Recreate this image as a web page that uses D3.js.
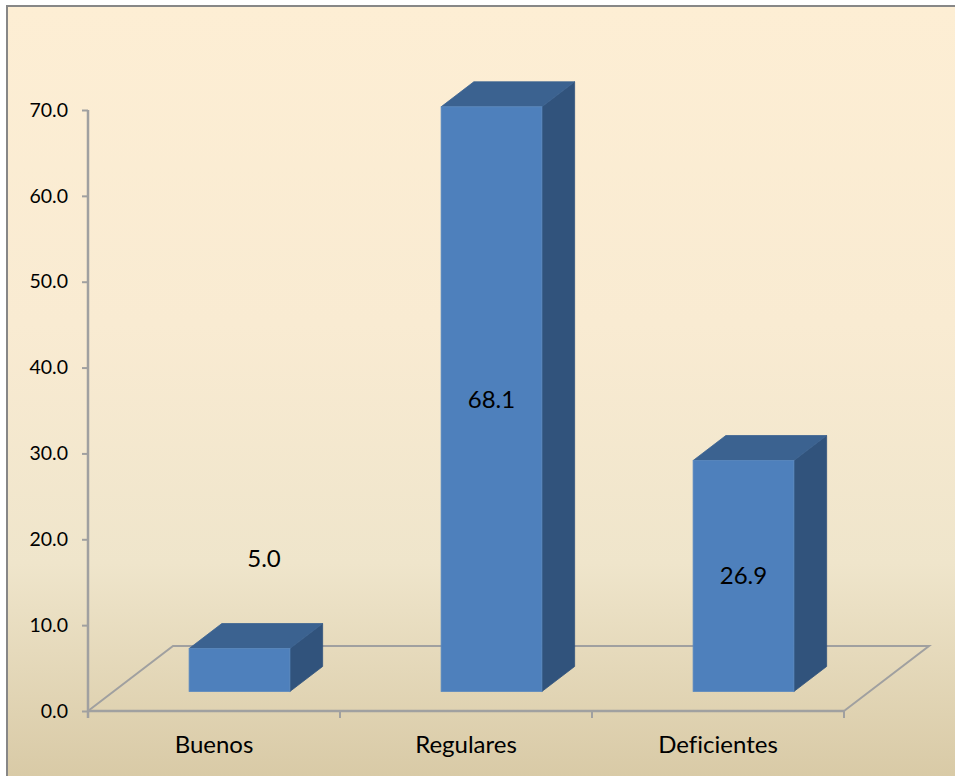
<!DOCTYPE html>
<html>
<head>
<meta charset="utf-8">
<script src="https://cdn.jsdelivr.net/npm/d3@7"></script>
<style>
  html, body { margin: 0; padding: 0; background: #ffffff; }
  svg { display: block; }
  text { font-variant-ligatures: none; }
</style>
</head>
<body>
<svg id="chart" width="955" height="776"></svg>
<script>
// Categories, values and axis ticks
const categories = ["Buenos", "Regulares", "Deficientes"];
const values = [5.0, 68.1, 26.9];
const tickValues = [0, 10, 20, 30, 40, 50, 60, 70];

const W = 955, H = 776;
const svg = d3.select("#chart");

// Background gradient of the chart area
const defs = svg.append("defs");
const grad = defs.append("linearGradient")
  .attr("id", "bg").attr("x1", 0).attr("y1", 0).attr("x2", 0).attr("y2", 1);
[["0%", "#fdeed4"], ["40%", "#f9ebd2"], ["70%", "#efe5cb"], ["100%", "#d6c7a2"]]
  .forEach(([o, c]) => grad.append("stop").attr("offset", o).attr("stop-color", c));

svg.append("rect").attr("x", 0).attr("y", 0).attr("width", W).attr("height", H).attr("fill", "#ffffff");
svg.append("rect")
  .attr("x", 7).attr("y", 6).attr("width", W + 20).attr("height", H + 20)
  .attr("fill", "url(#bg)")
  .attr("stroke", "#878787").attr("stroke-width", 2);

// Plot geometry: front plane of the 3D floor and its depth vector
const plot = { left: 88, right: 844, top: 110, bottom: 711 };
const depth = { dx: 85, dy: -65 };
const barDepthStart = 0.3, barDepthEnd = 0.685;

const x = d3.scaleBand().domain(categories).range([plot.left, plot.right]).paddingInner(0).paddingOuter(0);
const y = d3.scaleLinear().domain([0, 70]).range([plot.bottom, plot.top]);

const gridColor = "#a0a0a0";
const fontMain = "Lato, 'Open Sans', 'DejaVu Sans', sans-serif";

// Floor outline (drawn first so the bars cover its back edge)
const floor = svg.append("g").attr("fill", "none").attr("stroke", gridColor).attr("stroke-width", 2);
floor.append("path").attr("d", d3.line()([
  [plot.left, plot.bottom],
  [plot.left + depth.dx, plot.bottom + depth.dy],
  [plot.right + depth.dx, plot.bottom + depth.dy],
  [plot.right, plot.bottom]
]));

// Value axis
const yAxis = svg.append("g")
  .attr("transform", `translate(${plot.left},0)`)
  .call(d3.axisLeft(y).tickValues(tickValues).tickFormat(d3.format(".1f")).tickSize(6).tickSizeOuter(0).tickPadding(14));
yAxis.select(".domain").attr("stroke", gridColor).attr("stroke-width", 2.5)
  .attr("d", `M0,${plot.top}V${plot.bottom + 7}`);
yAxis.selectAll(".tick line").attr("stroke", gridColor).attr("stroke-width", 2);
yAxis.selectAll(".tick text")
  .attr("fill", "#000").attr("font-family", fontMain).attr("font-size", 19.5);

// Category axis
const xAxis = svg.append("g")
  .attr("transform", `translate(0,${plot.bottom})`)
  .call(d3.axisBottom(x).tickSize(0).tickPadding(34));
xAxis.select(".domain").attr("stroke", gridColor).attr("stroke-width", 2.5)
  .attr("d", `M${plot.left},0H${plot.right}`);
xAxis.selectAll(".tick text")
  .attr("fill", "#000").attr("font-family", fontMain).attr("font-size", 24)
  .attr("dy", "0.35em");
// Tick marks at category boundaries
const bounds = categories.map(c => x(c) + x.bandwidth());
xAxis.selectAll("line.bound").data(bounds).join("line")
  .attr("class", "bound")
  .attr("x1", d => d).attr("x2", d => d).attr("y1", 0).attr("y2", 7)
  .attr("stroke", gridColor).attr("stroke-width", 2);

// 3D bars
const bw = x.bandwidth() * 0.4;
const off0 = { x: depth.dx * barDepthStart, y: depth.dy * barDepthStart };
const bd = { x: depth.dx * (barDepthEnd - barDepthStart), y: depth.dy * (barDepthEnd - barDepthStart) };

const bars = svg.append("g").selectAll("g.bar")
  .data(categories.map((c, i) => ({ c, v: values[i] })))
  .join("g").attr("class", "bar");

bars.each(function (d) {
  const g = d3.select(this);
  const x0 = x(d.c) + (x.bandwidth() - bw) / 2 + off0.x;
  const x1 = x0 + bw;
  const yb = y(0) + off0.y;
  const yt = y(d.v) + off0.y;
  d.x0 = x0; d.x1 = x1; d.yt = yt; d.yb = yb;
  // side face
  g.append("path")
    .attr("d", d3.line()([[x1, yt], [x1 + bd.x, yt + bd.y], [x1 + bd.x, yb + bd.y], [x1, yb]]) + "Z")
    .attr("fill", "#31537c").attr("stroke", "#31537c").attr("stroke-width", 0.8);
  // top face
  g.append("path")
    .attr("d", d3.line()([[x0, yt], [x0 + bd.x, yt + bd.y], [x1 + bd.x, yt + bd.y], [x1, yt]]) + "Z")
    .attr("fill", "#3b6290").attr("stroke", "#3b6290").attr("stroke-width", 0.8);
  // front face
  g.append("rect")
    .attr("x", x0).attr("y", yt).attr("width", bw).attr("height", yb - yt)
    .attr("fill", "#4e80bc").attr("stroke", "#5a89c0").attr("stroke-width", 0.8);
});

// Value labels: centred on tall bars, above short ones
svg.append("g").selectAll("text")
  .data(bars.data())
  .join("text")
  .attr("x", d => (d.yb - d.yt) > 80 ? (d.x0 + d.x1) / 2 : (d.x0 + d.x1) / 2 + bd.x * 0.75)
  .attr("y", d => (d.yb - d.yt) > 80 ? (d.yt + d.yb) / 2 : d.yt - 90)
  .attr("text-anchor", "middle").attr("dy", "0.35em")
  .attr("font-family", fontMain).attr("font-size", 24).attr("fill", "#000")
  .text(d => d3.format(".1f")(d.v));
</script>
</body>
</html>
